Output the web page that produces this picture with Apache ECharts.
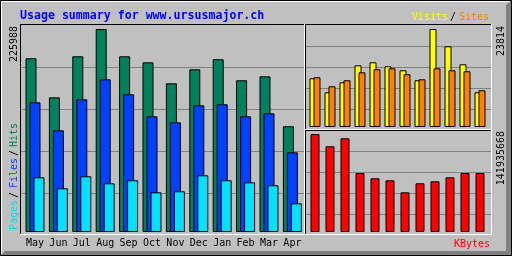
<!DOCTYPE html>
<html>
<head>
<meta charset="utf-8">
<script src="https://cdn.jsdelivr.net/npm/echarts@6/dist/echarts.min.js"></script>
<style>
  html, body { margin: 0; padding: 0; background: #c0c0c0; }
  #chart { width: 512px; height: 256px; }
</style>
</head>
<body>
<div id="chart"></div>
<script>
// usage summary data
const months = ["May", "Jun", "Jul", "Aug", "Sep", "Oct", "Nov", "Dec", "Jan", "Feb", "Mar", "Apr"];
const hits = [193400, 149900, 195600, 225988, 195600, 188900, 165500, 181100, 192300, 168900, 173300, 117700];
const files = [144400, 113200, 147700, 170000, 153300, 128800, 122100, 141000, 142200, 128800, 132100, 88700];
const pages = [60900, 48600, 62000, 54200, 57600, 44200, 45300, 63100, 57600, 55300, 52000, 31900];
const visits = [11830, 8430, 10860, 14990, 15720, 14750, 13780, 11350, 23814, 19610, 15240, 8430];
const sites = [12080, 9890, 11350, 13290, 14020, 14260, 12810, 11590, 14260, 13780, 13540, 8920];
const kbytes = [141935668, 124120000, 135710000, 85450000, 77780000, 74880000, 57500000, 70530000, 73430000, 79220000, 85450000, 85450000];

const maxHits = Math.max(...hits);
const maxVisits = Math.max(...visits);
const maxKbytes = Math.max(...kbytes);

const MONO = '"DejaVu Sans Mono", monospace';
const GRID_GREY = "#808080";
const SHADOW = "#808080";

// value axis whose 0 sits 3px above the panel floor and max 4px below its top
function dataAxis(gridIndex, maxVal, plotPx) {
  const s = maxVal / plotPx;
  return { type: "value", gridIndex, show: false, min: -3 * s, max: maxVal + 4 * s };
}

function gridAxis(gridIndex) {
  return {
    type: "value", gridIndex, min: 0, max: 5, interval: 1,
    axisLine: { show: false }, axisTick: { show: false }, axisLabel: { show: false },
    splitLine: { show: true, showMinLine: false, showMaxLine: false, lineStyle: { color: GRID_GREY, width: 1 } },
  };
}

function catAxis(gridIndex, showLabels) {
  return {
    type: "category", gridIndex, data: months,
    axisLine: { show: false }, axisTick: { show: false }, splitLine: { show: false },
    axisLabel: {
      show: showLabels, interval: 0, margin: 3, color: "#000",
      fontFamily: MONO, fontSize: 10,
    },
  };
}

function bar(name, data, xi, color, width, gap) {
  return {
    name, type: "bar", data, xAxisIndex: xi, yAxisIndex: xi,
    barWidth: width, barGap: gap,
    itemStyle: { color, borderColor: "#000", borderWidth: 1 },
    emphasis: { disabled: true },
  };
}

function label(text, x, y, color, opts = {}) {
  return {
    type: "text", x, y, z: 100, rotation: opts.rotation || 0,
    style: {
      text, fill: color,
      font: (opts.bold ? "bold " : "") + (opts.size || 10) + "px " + MONO,
      textAlign: opts.align || "left", verticalAlign: "middle",
      textShadowColor: opts.shadow ? SHADOW : "transparent",
      textShadowOffsetX: opts.shadow ? 1 : 0,
      textShadowOffsetY: opts.shadow ? 1 : 0,
      textShadowBlur: 0,
    },
  };
}

function line(x1, y1, x2, y2, color) {
  return { type: "line", z: 100, shape: { x1, y1, x2, y2 }, style: { stroke: color, lineWidth: 1 } };
}

const UP = Math.PI / 2;

const graphics = [
  // frame
  { type: "polygon", z: 90, shape: { points: [[512, 0], [512, 256], [0, 256], [5, 251], [506, 251], [506, 5]] }, style: { fill: "#808080" } },
  { type: "rect", z: 91, shape: { x: 0.5, y: 0.5, width: 511, height: 255 }, style: { fill: null, stroke: "#000", lineWidth: 1 } },
  { type: "polyline", z: 91, shape: { points: [[1.5, 254], [1.5, 1.5], [510, 1.5]] }, style: { fill: null, stroke: "#fff", lineWidth: 1 } },

  // left panel
  line(20, 24.5, 305, 24.5, "#000"), line(20.5, 24, 20.5, 235, "#000"),
  line(20, 234.5, 305, 234.5, "#fff"), line(304.5, 24, 304.5, 235, "#fff"),
  // top right panel
  line(305, 24.5, 492, 24.5, "#000"), line(305.5, 24, 305.5, 130, "#000"),
  line(305, 129.5, 492, 129.5, "#fff"), line(491.5, 24, 491.5, 130, "#fff"),
  // bottom right panel
  line(305, 130.5, 492, 130.5, "#000"), line(305.5, 130, 305.5, 235, "#000"),
  line(305, 234.5, 492, 234.5, "#fff"), line(491.5, 130, 491.5, 235, "#fff"),

  label("Usage summary for www.ursusmajor.ch", 20, 15.5, "#0000ff", { bold: true, size: 11.6 }),

  // max values
  label(String(maxHits), 14, 26, "#000", { rotation: UP, align: "right" }),
  label(String(maxVisits), 501, 26, "#000", { rotation: UP, align: "right" }),
  label(String(maxKbytes), 501, 131, "#000", { rotation: UP, align: "right" }),

  // legends
  label("Pages", 14, 230, "#00e0ff", { rotation: UP, shadow: true }),
  label("/", 14, 198, "#000", { rotation: UP, shadow: true }),
  label("Files", 14, 188, "#0040ff", { rotation: UP, shadow: true }),
  label("/", 14, 156, "#000", { rotation: UP, shadow: true }),
  label("Hits", 14, 147, "#00805c", { rotation: UP, shadow: true }),

  label("Visits", 412, 17.5, "#ffff00", { shadow: true }),
  label("/", 450, 17.5, "#000", { shadow: true }),
  label("Sites", 459, 17.5, "#ff8000", { shadow: true }),

  label("KBytes", 454, 244, "#ff0000", { shadow: true }),
];

const chart = echarts.init(document.getElementById("chart"), null, { renderer: "canvas" });
chart.setOption({
  animation: false,
  backgroundColor: "#c0c0c0",
  grid: [
    { left: 23.3, top: 25, width: 280.8, height: 210, outerBoundsMode: "none" },
    { left: 307.5, top: 25, width: 180, height: 105, outerBoundsMode: "none" },
    { left: 307.5, top: 130, width: 180, height: 105, outerBoundsMode: "none" },
    { left: 21, top: 25, width: 283, height: 210, outerBoundsMode: "none" },
    { left: 306, top: 25, width: 185, height: 105, outerBoundsMode: "none" },
    { left: 306, top: 130, width: 185, height: 105, outerBoundsMode: "none" },
  ],
  xAxis: [
    catAxis(0, true), catAxis(1, false), catAxis(2, false),
    { type: "value", gridIndex: 3, show: false, min: 0, max: 1 },
    { type: "value", gridIndex: 4, show: false, min: 0, max: 1 },
    { type: "value", gridIndex: 5, show: false, min: 0, max: 1 },
  ],
  yAxis: [
    dataAxis(0, maxHits, 203), dataAxis(1, maxVisits, 98), dataAxis(2, maxKbytes, 98),
    gridAxis(3), gridAxis(4), gridAxis(5),
  ],
  series: [
    bar("Hits", hits, 0, "#00805c", 11, "-63.64%"),
    bar("Files", files, 0, "#0040ff", 11, "-63.64%"),
    bar("Pages", pages, 0, "#00e0ff", 11, "-63.64%"),
    bar("Visits", visits, 1, "#ffff00", 7, "-42.86%"),
    bar("Sites", sites, 1, "#ff8000", 7, "-42.86%"),
    bar("KBytes", kbytes, 2, "#ff0000", 9, "30%"),
  ],
  graphic: { elements: graphics },
});
</script>
</body>
</html>
